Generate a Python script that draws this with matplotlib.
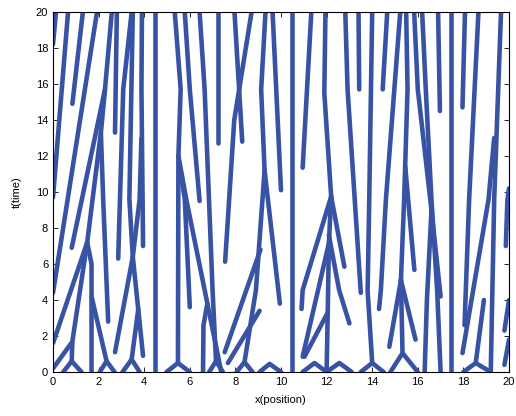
import matplotlib
matplotlib.use("Agg")
import matplotlib.pyplot as plt

plt.rcParams['font.family'] = ['Liberation Sans', 'DejaVu Sans']

# particle trajectories, each a list of (x, t) points
paths_left = [
    [(0.0, 18.2), (0.13, 20)],
    [(0.0, 9.7), (0.66, 20)],
    [(0.85, 14.9), (1.31, 20)],
    [(0.0, 4.4), (1.93, 20)],
    [(0.82, 6.9), (2.28, 15.7), (2.58, 20)],
    [(2.72, 13.3), (2.8, 20)],
    [(0.0, 1.6), (1.5, 7.2), (2.1, 13.3), (2.28, 15.7)],
    [(2.1, 13.3), (2.2, 9.6), (2.42, 2.8)],
    [(1.69, 0.0), (1.69, 6.0), (1.5, 7.2)],
    [(0.0, 0.2), (0.8, 1.6)],
    [(0.82, 0.6), (0.85, 1.7), (1.5, 7.2)],
    [(1.69, 4.2), (2.35, 0.6)],
    [(2.72, 1.1), (3.5, 6.4), (3.8, 9.6), (3.88, 13.0)],
    [(3.95, 0.9), (3.5, 6.4), (3.35, 9.6), (3.5, 20)],
    [(3.45, 0.7), (3.74, 3.5)],
    [(3.95, 7.0), (3.88, 15.7), (3.9, 20)],
    [(2.86, 6.3), (3.08, 15.7), (3.45, 20)],
    [(4.46, 0.0), (4.46, 20)],
]

paths_mid = [
    [(5.48, 0.5), (5.5, 12.0), (5.6, 15.7), (5.34, 20)],
    [(5.5, 12.0), (5.85, 9.56), (7.38, 0.0)],
    [(5.78, 20), (6.0, 15.7), (6.43, 9.5)],
    [(5.55, 11.5), (5.78, 9.6), (6.0, 3.6)],
    [(6.58, 0.0), (6.6, 2.6), (6.77, 3.8)],
    [(6.43, 20), (6.65, 15.7), (7.0, 4.5), (7.15, 0.6)],
    [(7.22, 12.75), (7.22, 20)],
    [(7.96, 20), (8.3, 12.8)],
    [(8.71, 20), (7.95, 14.0), (7.55, 6.13)],
    [(9.32, 20), (9.13, 15.7), (9.28, 11.2)],
    [(9.28, 11.2), (8.9, 4.55), (8.4, 0.55)],
    [(9.28, 11.2), (9.95, 3.8)],
    [(7.53, 1.1), (9.1, 6.8)],
    [(7.67, 0.5), (9.06, 3.4)],
    [(9.63, 20), (10.0, 10.1)],
    [(10.5, 0.0), (10.5, 20)],
    [(11.33, 20), (10.95, 11.35)],
    [(11.95, 20), (11.9, 15.5), (12.2, 9.75)],
    [(12.2, 9.75), (10.95, 4.55), (10.9, 3.5)],
    [(12.2, 9.75), (12.78, 5.85)],
    [(12.0, 0.0), (12.05, 3.3), (12.1, 7.15), (12.2, 9.75)],
    [(12.05, 3.3), (11.03, 0.85)],
    [(12.1, 7.15), (10.95, 0.85)],
    [(12.1, 7.6), (12.55, 4.55), (13.0, 2.7)],
    [(12.82, 20), (12.92, 15.7), (13.5, 4.4)],
    [(13.4, 20), (13.43, 15.7)],
    [(14.0, 20), (13.87, 9.56), (13.8, 4.5), (14.0, 0.5)],
    [(14.66, 20), (14.46, 15.7)],
]

paths_right = [
    [(15.23, 20), (14.6, 9.56), (14.38, 4.55), (14.3, 3.5)],
    [(15.49, 20), (15.55, 15.7), (15.4, 9.56), (15.26, 5.1)],
    [(15.26, 5.1), (14.75, 1.4)],
    [(15.26, 5.1), (15.9, 1.8)],
    [(15.33, 1.05), (15.26, 5.1)],
    [(15.45, 11.4), (15.85, 5.67)],
    [(15.84, 20), (16.0, 15.7), (16.55, 9.56), (17.0, 4.2)],
    [(16.19, 20), (16.35, 15.7), (16.6, 9.56), (16.85, 4.5), (17.0, 0.0)],
    [(16.3, 0.0), (16.4, 4.0), (16.6, 9.0)],
    [(16.89, 20), (16.97, 14.5)],
    [(17.45, 0.0), (17.45, 20)],
    [(18.07, 20), (17.96, 14.7)],
    [(18.66, 20), (18.25, 9.56), (18.05, 2.6)],
    [(17.96, 1.05), (19.1, 9.56), (19.35, 13.0)],
    [(19.2, 0.0), (19.35, 9.56), (19.65, 20)],
    [(18.54, 0.5), (18.9, 4.0)],
    [(19.86, 7.0), (19.93, 9.56), (20.0, 10.2)],
    [(19.8, 2.3), (20.0, 4.0)],
    [(19.8, 0.4), (20.0, 1.8)],
]

# splitting points at t = 0: (left foot, apex x, apex t, right foot)
splits = [
    (0.45, 0.82, 0.6, 1.25),
    (2.05, 2.35, 0.6, 2.7),
    (3.05, 3.45, 0.7, 3.8),
    (4.98, 5.48, 0.5, 6.0),
    (6.85, 7.15, 0.6, 7.45),
    (8.05, 8.4, 0.55, 8.75),
    (9.06, 9.5, 0.45, 10.0),
    (10.95, 11.47, 0.5, 12.0),
    (12.0, 12.56, 0.5, 13.1),
    (13.5, 14.0, 0.5, 14.5),
    (14.8, 15.33, 1.05, 16.0),
    (18.0, 18.54, 0.5, 19.2),
]

blue = '#3953a4'
lw = 3.3

fig = plt.figure(figsize=(5.16, 4.16), dpi=100)
ax = fig.add_axes([53 / 516, 44 / 416, 456 / 516, 360 / 416])

for p in paths_left + paths_mid + paths_right:
    xs = [q[0] for q in p]
    ts = [q[1] for q in p]
    ax.plot(xs, ts, color=blue, lw=lw, solid_capstyle='round', solid_joinstyle='round')

for xl, xa, ta, xr in splits:
    ax.plot([xl, xa, xr], [0, ta, 0], color=blue, lw=lw,
            solid_capstyle='round', solid_joinstyle='round')

ax.set_xlim(0, 20)
ax.set_ylim(0, 20)
ax.set_xticks(range(0, 21, 2))
ax.set_yticks(range(0, 21, 2))
ax.tick_params(direction='in', top=True, right=True, labelsize=8, length=3.5, width=0.6)
for s in ax.spines.values():
    s.set_linewidth(0.8)
ax.set_xlabel('x(position)', fontsize=8, labelpad=6)
ax.set_ylabel('t(time)', fontsize=8, labelpad=10)

fig.savefig('out.png', dpi=100)
